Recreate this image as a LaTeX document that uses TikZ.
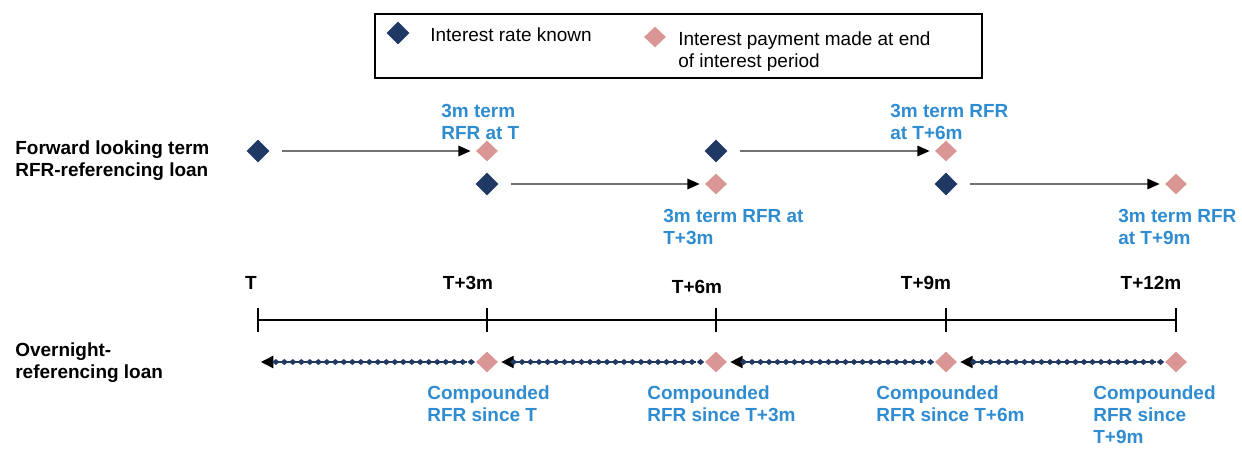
\documentclass[tikz,border=0pt]{standalone}
\usepackage{fontspec}
\setmainfont{Liberation Sans}
\usetikzlibrary{shapes.geometric,arrows.meta,decorations.markings}
\definecolor{knownblue}{RGB}{31,56,100}
\definecolor{paypink}{RGB}{218,150,148}
\definecolor{labelblue}{RGB}{48,140,208}
\newcommand{\tzero}{258}
\newcommand{\tthree}{487}
\newcommand{\tsix}{716}
\newcommand{\tnine}{946}
\newcommand{\ttwelve}{1176}
\newcommand{\upperrow}{151}
\newcommand{\lowerrow}{184}
\newcommand{\axisrow}{320}
\newcommand{\overnightrow}{362}
\newcommand{\ticklen}{12}

\begin{document}
\begin{tikzpicture}[x=0.02cm,y=-0.02cm]
\tikzstyle{known}=[diamond,fill=knownblue,inner sep=0pt,minimum width=0.46cm,minimum height=0.46cm]
\tikzstyle{paid}=[diamond,fill=paypink,inner sep=0pt,minimum width=0.44cm,minimum height=0.42cm]
\tikzstyle{termarrow}=[draw=black!55,line width=0.8pt,-{Triangle[black,length=7pt,width=6pt]},shorten <=0.24cm,shorten >=0.1cm]
\tikzstyle{compounding}=[draw=knownblue,line width=0.7pt,-{Triangle[black,length=7pt,width=7pt]},shorten <=0.18cm,shorten >=0.06cm,
  postaction={decorate},decoration={markings,mark=between positions 0.02 and 0.95 step 0.17cm with {\fill[knownblue] (0.075cm,0pt)--(0pt,0.06cm)--(-0.075cm,0pt)--(0pt,-0.06cm)--cycle;}}]
\tikzstyle{bluelabel}=[anchor=north west,inner sep=0pt,align=left,text=labelblue,font=\fontsize{10.8}{12.5}\selectfont\bfseries]
\tikzstyle{blacklabel}=[inner sep=0pt,align=left,font=\fontsize{10.8}{12.5}\selectfont\bfseries]
\tikzstyle{legendtext}=[anchor=north west,inner sep=0pt,align=left,font=\fontsize{10.8}{12.8}\selectfont]

\useasboundingbox (0,0) rectangle (1242,449);

% legend
\draw[line width=0.85pt] (375,14) rectangle (982,78);
\node[known] (legknown) at (398,33) {};
\node[legendtext] (legknowntext) at (430,27) {Interest rate known};
\node[paid] (legpaid) at (655,37) {};
\node[legendtext] (legpaidtext) at (678,31) {Interest payment made at end\\of interest period};

% forward looking term loan
\node[blacklabel,anchor=north west] (termloan) at (15,140) {Forward looking term\\RFR-referencing loan};
\node[known] (k0) at (\tzero,\upperrow) {};
\node[paid] (p1) at (\tthree,\upperrow) {};
\node[known] (k1) at (\tthree,\lowerrow) {};
\node[paid] (p2) at (\tsix,\lowerrow) {};
\node[known] (k2) at (\tsix,\upperrow) {};
\node[paid] (p3) at (\tnine,\upperrow) {};
\node[known] (k3) at (\tnine,\lowerrow) {};
\node[paid] (p4) at (\ttwelve,\lowerrow) {};
\draw[termarrow] (k0) -- (p1);
\draw[termarrow] (k1) -- (p2);
\draw[termarrow] (k2) -- (p3);
\draw[termarrow] (k3) -- (p4);
\node[bluelabel] (rfrone) at (441,104) {3m term\\RFR at T};
\node[bluelabel] (rfrtwo) at (663,209) {3m term RFR at\\T+3m};
\node[bluelabel] (rfrthree) at (890,104) {3m term RFR\\at T+6m};
\node[bluelabel] (rfrfour) at (1118,209) {3m term RFR\\at T+9m};

% time axis
\node[blacklabel] (tlzero) at (251,283) {T};
\node[blacklabel] (tlthree) at (468,283) {T+3m};
\node[blacklabel] (tlsix) at (697,287) {T+6m};
\node[blacklabel] (tlnine) at (926,283) {T+9m};
\node[blacklabel] (tltwelve) at (1151,283) {T+12m};
\coordinate (a0) at (\tzero,\axisrow);
\coordinate (a4) at (\ttwelve,\axisrow);
\draw[line width=1.3pt] (a0) -- (a4);
\foreach \t in {\tzero,\tthree,\tsix,\tnine,\ttwelve}
  \draw[line width=1.6pt] (\t,\axisrow-\ticklen) -- (\t,\axisrow+\ticklen);

% overnight loan
\node[blacklabel,anchor=north west] (overnightloan) at (15,342) {Overnight-\\referencing loan};
\coordinate (o0) at (\tzero,\overnightrow);
\node[paid] (o1) at (\tthree,\overnightrow) {};
\node[paid] (o2) at (\tsix,\overnightrow) {};
\node[paid] (o3) at (\tnine,\overnightrow) {};
\node[paid] (o4) at (\ttwelve,\overnightrow) {};
\draw[compounding] (o1) -- (o0);
\draw[compounding] (o2) -- (o1);
\draw[compounding] (o3) -- (o2);
\draw[compounding] (o4) -- (o3);
\node[bluelabel] (compone) at (427,385) {Compounded\\RFR since T};
\node[bluelabel] (comptwo) at (647,385) {Compounded\\RFR since T+3m};
\node[bluelabel] (compthree) at (876,385) {Compounded\\RFR since T+6m};
\node[bluelabel] (compfour) at (1093,385) {Compounded\\RFR since\\T+9m};
\end{tikzpicture}
\end{document}
